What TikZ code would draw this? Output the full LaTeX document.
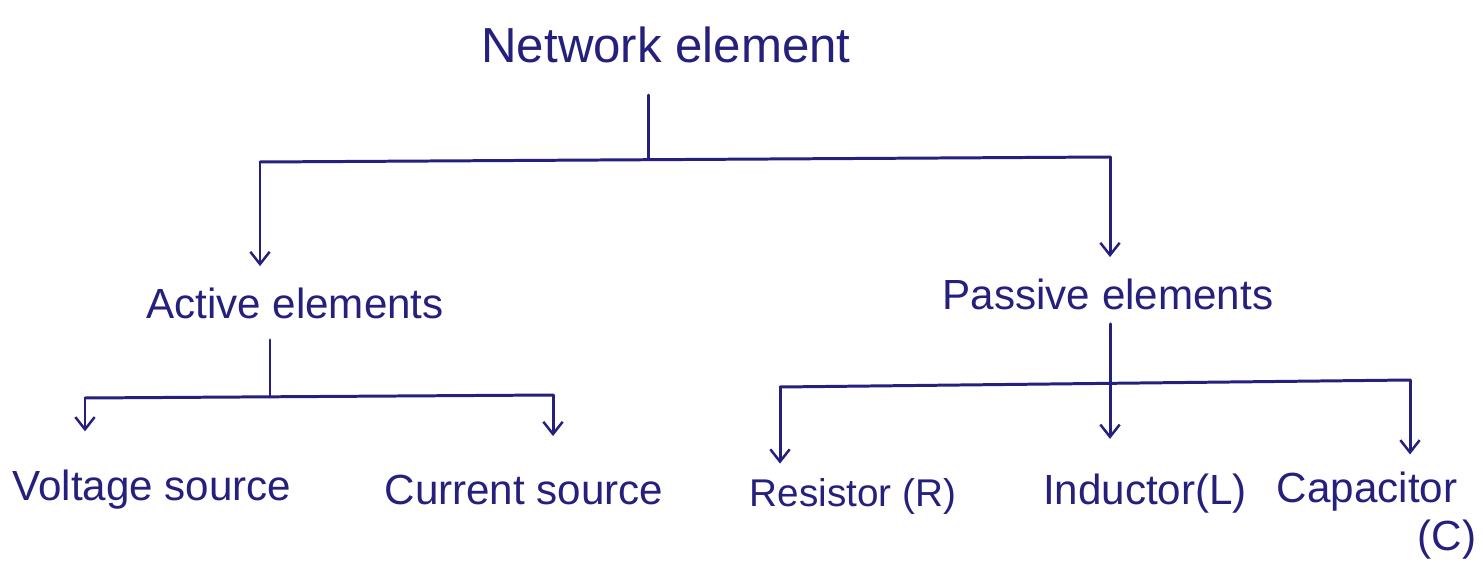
\documentclass[tikz,border=0pt]{standalone}
\usepackage{fontspec}
\setmainfont{Liberation Sans}
\usetikzlibrary{arrows.meta}
\definecolor{ink}{RGB}{38,32,125}
\tikzset{
  lbl/.style={text=ink, inner sep=2pt, font=\fontsize{24}{28}\selectfont},
  big/.style={lbl, font=\fontsize{28}{32}\selectfont},
  small/.style={lbl, font=\fontsize{22}{26}\selectfont},
  ln/.style={draw=ink, line width=1.7pt, line cap=round, line join=round},
  arr/.style={ln, -{Straight Barb[length=7pt,width=11pt,line width=1.4pt]}, shorten >=10pt}
}
\begin{document}
\begin{tikzpicture}[x=0.02cm, y=-0.02cm]
\useasboundingbox[fill=white] (0,0) rectangle (1483,563);
% nodes
\node[big] (net) at (666,45) {Network element};
\node[lbl] (act) at (295,303) {Active elements};
\node[lbl] (pas) at (1108,294) {Passive elements};
\node[lbl] (volt) at (152,490) {Voltage source};
\node[lbl] (curr) at (524,490) {Current source};
\node[small] (res) at (853,496) {Resistor (R)};
\node[lbl] (ind) at (1145,494) {Inductor(L)};
\node[lbl] (cap) at (1367,492) {Capacitor};
\node[lbl] (capc) at (1447,540) {(C)};
% junctions
\coordinate (j0) at (648,158);
\coordinate (jL) at (260,162);
\coordinate (jR) at (1110,157);
\coordinate (j1) at (270,397);
\coordinate (aL) at (85,398);
\coordinate (aR) at (553,395);
\coordinate (j2) at (1110,383);
\coordinate (pL) at (780,387);
\coordinate (pR) at (1410,380);
% top level
\draw[ln, shorten <=16pt] (net.south -| j0) -- (j0);
\draw[ln] (jL) -- (jR);
\draw[arr] (jL) -- (jL |- act.north);
\draw[arr] (jR) -- (jR |- pas.north);
% active branch
\draw[ln, shorten <=10pt] (act.south -| j1) -- (j1);
\draw[ln] (aL) -- (aR);
\draw[arr, shorten >=20pt] (aL) -- (aL |- volt.north);
\draw[arr, shorten >=20pt] (aR) -- (aR |- curr.north);
% passive branch
\draw[ln, shorten <=6pt] (pas.south -| j2) -- (j2);
\draw[ln] (pL) -- (pR);
\draw[arr, shorten >=6pt] (pL) -- (pL |- res.north);
\draw[arr, shorten >=18pt] (j2) -- (j2 |- ind.north);
\draw[arr, shorten >=8pt] (pR) -- (pR |- cap.north);
\end{tikzpicture}
\end{document}
